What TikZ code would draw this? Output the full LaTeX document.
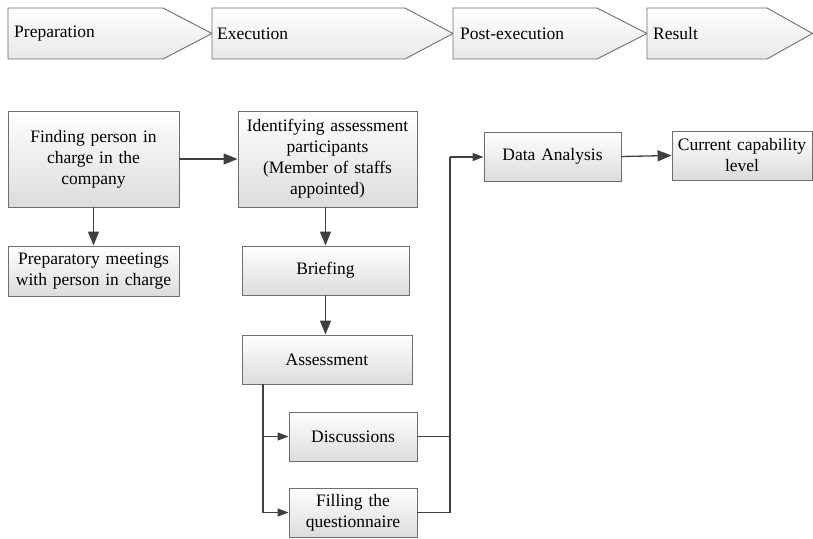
\documentclass[tikz,border=0pt]{standalone}
\usepackage{fontspec}
\setmainfont{Liberation Serif}
\usetikzlibrary{arrows.meta}
\definecolor{boxbot}{RGB}{220,220,220}
\definecolor{chevbot}{RGB}{232,232,232}
\definecolor{boxline}{RGB}{110,110,110}
\definecolor{arrline}{RGB}{64,64,64}
\begin{document}
\begin{tikzpicture}[x=1pt,y=-1pt,
  box/.style={draw=boxline,line width=0.9pt,top color=white,bottom color=boxbot,
    inner sep=0pt,align=center,font=\fontsize{17.5}{21}\selectfont},
  chev/.style={draw=boxline,line width=0.9pt,top color=white,bottom color=chevbot},
  lbl/.style={anchor=west,inner sep=0pt,font=\fontsize{17.5}{21}\selectfont},
  arr/.style={draw=arrline,line width=1.3pt,-{Triangle[length=14pt,width=11pt]}},
  sarr/.style={draw=arrline,line width=1.3pt,-{Triangle[length=11pt,width=8pt]}},
  ln/.style={draw=arrline,line width=1.3pt}]
\useasboundingbox (0,0) rectangle (813,538);
% phase chevrons
\path[chev] (8,8) -- (163,8) -- (212,33.5) -- (163,59) -- (8,59) -- cycle;
\path[chev] (212,8) -- (405,8) -- (453,33.5) -- (405,59) -- (212,59) -- cycle;
\path[chev] (453,8) -- (597,8) -- (647,33.5) -- (597,59) -- (453,59) -- cycle;
\path[chev] (647,8) -- (767,8) -- (812.5,33.5) -- (767,59) -- (647,59) -- cycle;
\node[lbl] (p1) at (14,33.5) {Preparation};
\node[lbl] (p2) at (217,33.5) {Execution};
\node[lbl] (p3) at (460,33.5) {Post-execution};
\node[lbl] (p4) at (653,33.5) {Result};
% boxes
\node[box,minimum width=171pt,minimum height=96pt,text width=165pt] (find) at (93.5,159) {Finding person in\\charge in the\\company};
\node[box,minimum width=171pt,minimum height=50pt,text width=171pt] (prep) at (93.5,271) {Preparatory meetings\\with person in charge};
\node[box,minimum width=179pt,minimum height=96pt,text width=179pt] (ident) at (327.5,159) {Identifying assessment\\participants\\(Member of staffs\\appointed)};
\node[box,minimum width=167pt,minimum height=49pt,text width=165pt] (brief) at (325.5,270.5) {Briefing};
\node[box,minimum width=170pt,minimum height=49pt,text width=165pt] (assess) at (327,359.5) {Assessment};
\node[box,minimum width=128pt,minimum height=49pt,text width=125pt] (disc) at (353,436.5) {Discussions};
\node[box,minimum width=128pt,minimum height=49pt,text width=125pt] (fill) at (353,512.5) {Filling the\\questionnaire};
\node[box,minimum width=137pt,minimum height=49pt,text width=135pt] (da) at (552.5,156.5) {Data Analysis};
\node[box,minimum width=140pt,minimum height=49pt,text width=140pt] (cc) at (742,155.5) {Current capability\\level};
% connectors
\draw[arr] (find.east) -- (ident.west);
\draw[arr] (find.south) -- (prep.north);
\draw[arr] (ident.south -| brief.north) -- (brief.north);
\draw[arr] (brief.south) -- (brief.south |- assess.north);
\coordinate (split) at (263,384);
\draw[sarr] (split) |- (disc.west);
\draw[sarr] (split) |- (fill.west);
\coordinate (bus) at (450,157);
\draw[ln] (disc.east) -| (bus);
\draw[ln] (fill.east) -| (bus);
\draw[sarr] (bus) -- (da.west |- bus);
\draw[arr] (da.east) -- (cc.west);
\end{tikzpicture}
\end{document}
